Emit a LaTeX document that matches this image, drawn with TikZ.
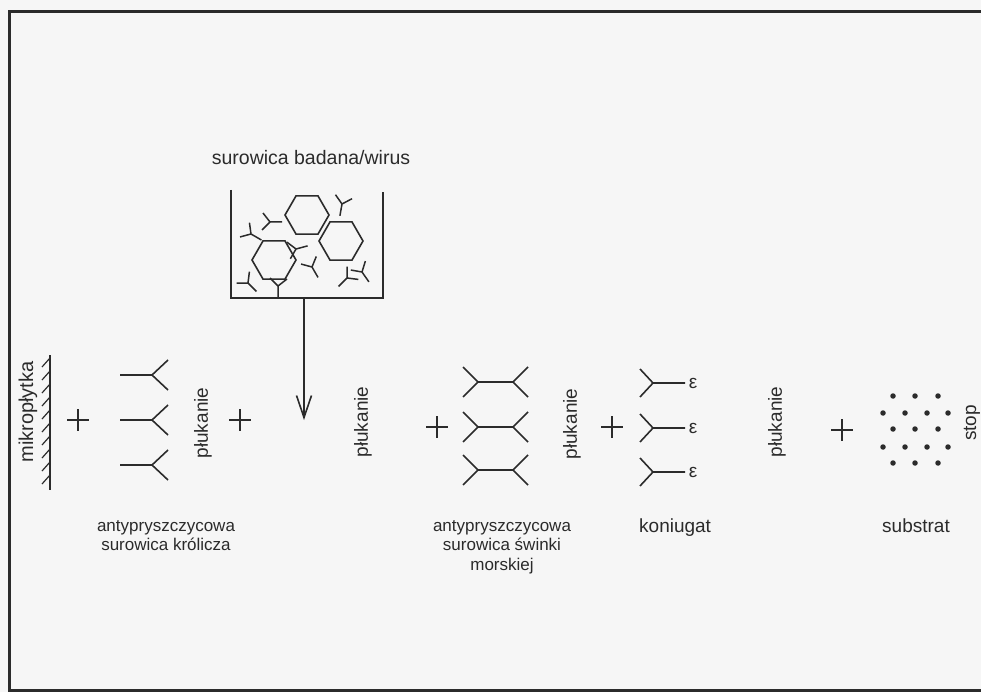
\documentclass[tikz,border=0pt]{standalone}
\usepackage{fontspec}
\setmainfont{Liberation Sans}
\usetikzlibrary{arrows.meta,shapes.geometric}

\definecolor{tusz}{gray}{0.17}
\definecolor{papier}{gray}{0.965}

\tikzset{
  kreska/.style={draw=tusz, line width=1.6pt},
  napis/.style={text=tusz, font=\fontsize{19}{20}\selectfont, inner sep=0pt},
  podpis/.style={napis, font=\fontsize{17}{19.5}\selectfont, align=center, anchor=north},
  pion/.style={napis, rotate=90},
  wirus/.style={regular polygon, regular polygon sides=6, minimum size=44pt,
                draw=tusz, line width=1.6pt, inner sep=0pt},
  kropka/.style={circle, fill=tusz, inner sep=0pt, minimum size=5.5pt},
  % maly Y (przeciwcialo w zlewce)
  ab/.pic={\draw[kreska, line width=1.5pt] (0,0) -- (0,12) (0,0) -- (-8,-8) (0,0) -- (9,-7);},
  % przeciwcialo krolicze
  igg/.pic={\draw[kreska] (-32,0) -- (0,0) -- (16,-15) (0,0) -- (16,15);},
  % przeciwcialo swinki morskiej
  iggdwa/.pic={\draw[kreska] (-15,-15) -- (0,0) -- (-15,15) (0,0) -- (35,0) -- (50,-15) (35,0) -- (50,15);},
  % koniugat
  konj/.pic={\draw[kreska] (-13,-14) -- (0,0) -- (-13,14) (0,0) -- (32,0);},
  plus/.pic={\draw[kreska, line width=1.4pt] (-11,0) -- (11,0) (0,-11) -- (0,11);},
}

\begin{document}
\begin{tikzpicture}[x=1pt, y=-1pt]

\fill[papier] (0,0) rectangle (981,692);
\useasboundingbox (0,0) rectangle (981,692);

% ramka
\draw[draw=tusz, line width=3pt] (981,12) -- (9,12) -- (9,690) -- (981,690);

% zlewka z surowica i wirusem
\node[napis, font=\fontsize{19.5}{21}\selectfont] (badana) at (311,158) {surowica badana/wirus};
\draw[kreska] (231,190) -- (231,298) -- (383,298) -- (383,192);
\coordinate (dno) at (304,298);
\coordinate (cel) at (304,420);
\draw[kreska, -{Straight Barb[length=22pt,width=15pt]}] (dno) -- (cel);

\node[wirus] (w1) at (307,215) {};
\node[wirus] (w2) at (341,241) {};
\node[wirus] (w3) at (274,260) {};

\pic[rotate=-10] at (342,204) {ab};
\pic[rotate=90]  at (270,222) {ab};
\pic[rotate=60]  at (251,234) {ab};
\pic[rotate=105] at (296,249) {ab};
\pic[rotate=30]  at (312,267) {ab};
\pic[rotate=45]  at (248,283) {ab};
\pic[rotate=0]   at (278,286) {ab};
\pic[rotate=-45] at (347,278) {ab};
\pic[rotate=35]  at (362,272) {ab};

% mikroplytka
\node[pion, font=\fontsize{20}{21}\selectfont] (mikro) at (28,412) {mikropłytka};
\draw[kreska] (50,355) -- (50,490);
\foreach \y in {358,371,...,484}
  \draw[kreska, line width=1.2pt] (50,\y) -- (42,\y+9);

% kolejne etapy
\pic at (78,420) {plus};
\foreach \y in {375,420,465}
  \pic at (152,\y) {igg};
\node[pion] (pl1) at (203,423) {płukanie};
\pic at (240,420) {plus};

\node[pion] (pl2) at (363,422) {płukanie};
\pic at (437,427) {plus};
\foreach \y in {382,427,470}
  \pic at (478,\y) {iggdwa};
\node[pion] (pl3) at (572,424) {płukanie};
\pic at (612,427) {plus};

\foreach \y [count=\i] in {383,428,472} {
  \pic at (653,\y) {konj};
  \node[napis] (enz\i) at (693,\y) {ε};
}
\node[pion] (pl4) at (777,422) {płukanie};
\pic at (842,430) {plus};

% substrat
\foreach \y in {396,429,463}
  \foreach \x in {893,915,938}
    \node[kropka] at (\x,\y) {};
\foreach \y in {413,447}
  \foreach \x in {883,905,927,948}
    \node[kropka] at (\x,\y) {};
\node[pion] (stop) at (972,423) {stop};

% podpisy
\node[podpis] (krolik) at (166,520) {antypryszczycowa\\surowica królicza};
\node[podpis] (swinka) at (502,520) {antypryszczycowa\\surowica świnki\\morskiej};
\node[napis, anchor=north west] (koniugat) at (639,519) {koniugat};
\node[napis, anchor=north west] (substrat) at (882,519) {substrat};

\end{tikzpicture}
\end{document}
